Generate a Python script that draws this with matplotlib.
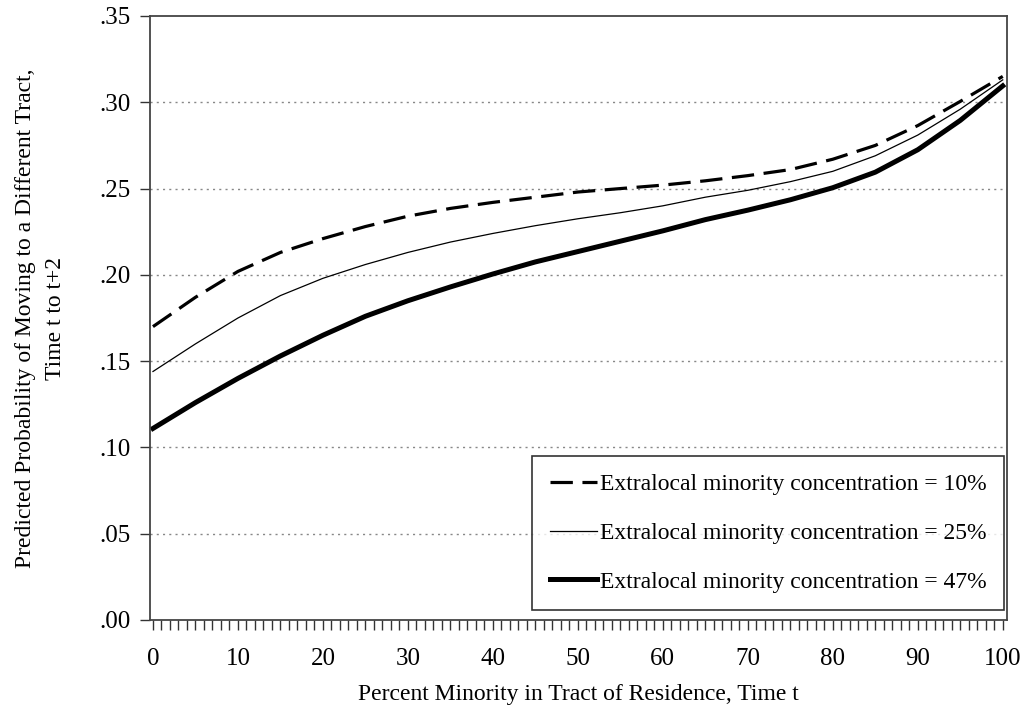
import numpy as np
import matplotlib.pyplot as plt
from matplotlib.ticker import MultipleLocator, FuncFormatter

plt.rcParams['font.family'] = ['Liberation Serif', 'DejaVu Serif']

pct_minority = [0, 5, 10, 15, 20, 25, 30, 35, 40, 45, 50,
                55, 60, 65, 70, 75, 80, 85, 90, 95, 100]
conc_10 = [.170, .187, .202, .213, .221, .228, .234, .2385, .242, .245, .248,
           .250, .252, .2545, .2575, .261, .267, .275, .2865, .3005, .315]
conc_25 = [.144, .160, .175, .188, .198, .206, .213, .219, .224, .2285, .2325,
           .236, .240, .245, .249, .254, .260, .269, .281, .296, .313]
conc_47 = [.111, .126, .140, .153, .165, .176, .185, .193, .2005, .2075, .2135,
           .2195, .2255, .232, .2375, .2435, .2505, .2595, .2725, .2895, .3095]
labels = ["Extralocal minority concentration = 10%",
          "Extralocal minority concentration = 25%",
          "Extralocal minority concentration = 47%"]

fig = plt.figure(figsize=(10.28, 7.10), dpi=100)
ax = fig.add_axes([150/1028, 90/710, 857/1028, 604/710])

ax.plot(pct_minority, conc_10, color='black', lw=2.3, ls=(0, (7, 3)), label=labels[0])
ax.plot(pct_minority, conc_25, color='black', lw=0.9, label=labels[1])
ax.plot(pct_minority, conc_47, color='black', lw=3.6, label=labels[2])

ax.set_xlim(-0.35, 100.5)
ax.set_ylim(0, 0.35)
ax.xaxis.set_major_locator(MultipleLocator(10))
ax.xaxis.set_minor_locator(MultipleLocator(1))
ax.yaxis.set_major_locator(MultipleLocator(0.05))
ax.yaxis.set_major_formatter(FuncFormatter(lambda v, p: ("%.2f" % v)[1:]))

for yv in np.arange(0.05, 0.31, 0.05):
    ax.axhline(yv, color='#888888', lw=1, ls=(0, (1.5, 3)), zorder=0)

ax.tick_params(axis='x', which='both', direction='out', length=7, width=1,
               labelsize=18, pad=13, color='#333333')
ax.tick_params(axis='y', which='major', direction='out', length=7, width=1,
               labelsize=18, pad=7, color='#333333')
for s in ax.spines.values():
    s.set_color('#444444')
    s.set_linewidth(1.3)

ax.set_xlabel("Percent Minority in Tract of Residence, Time t", fontsize=17, labelpad=10)
ax.set_ylabel("Predicted Probability of Moving to a Different Tract,\nTime t to t+2",
              fontsize=17, labelpad=24, linespacing=1.55)

leg = ax.legend(loc='lower right', fontsize=17, frameon=True, fancybox=False,
                edgecolor='black', handlelength=2.0, handletextpad=0.1,
                labelspacing=1.15, borderpad=0.75, borderaxespad=0,
                bbox_to_anchor=(0.9965, 0.016))
leg.get_frame().set_linewidth(1.2)

plt.savefig("out.png", dpi=100)
